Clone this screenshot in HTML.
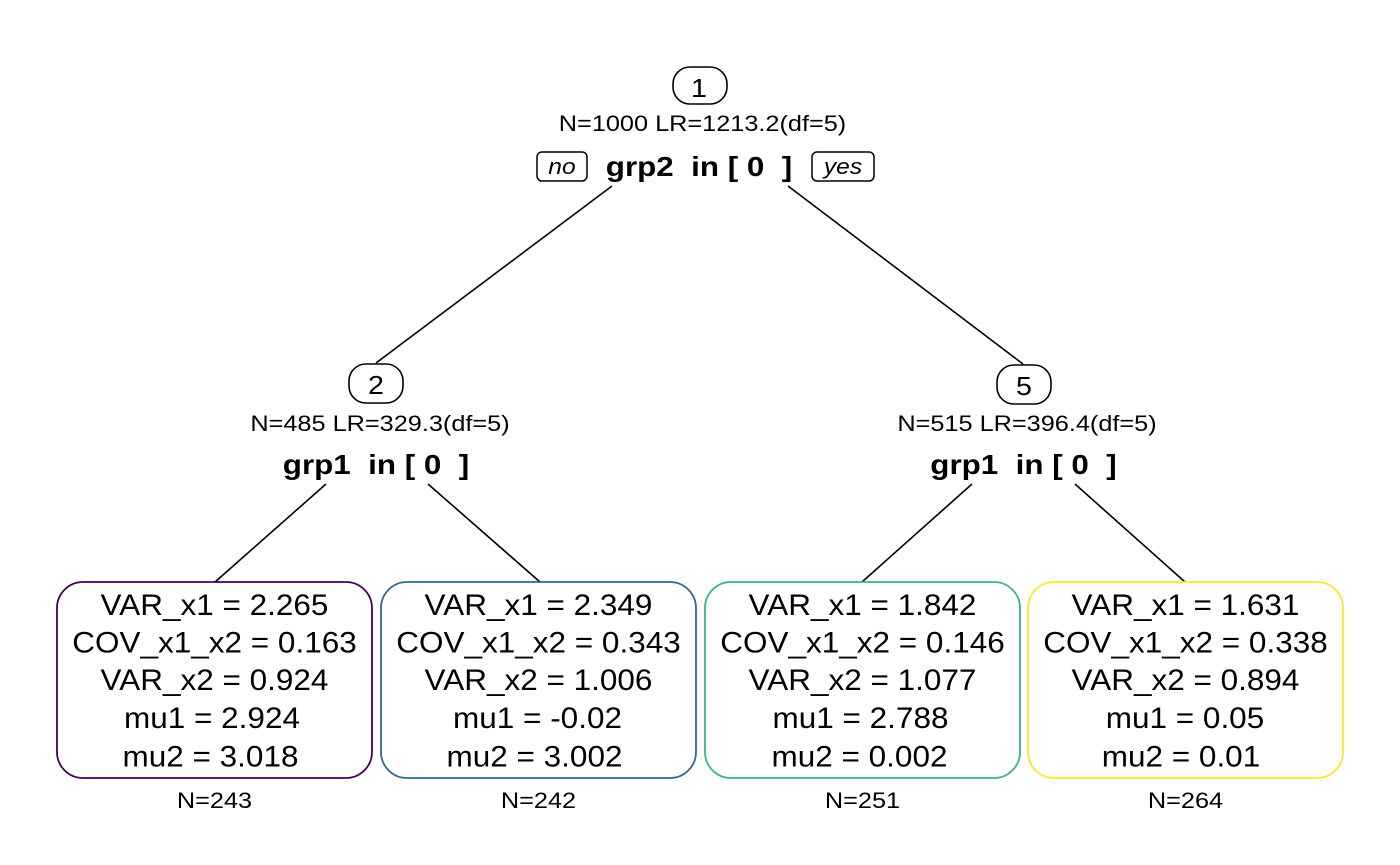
<!DOCTYPE html>
<html>
<head>
<meta charset="utf-8">
<style>
html,body{margin:0;padding:0;background:#fff;}
svg{display:block;}
text{font-family:"Liberation Sans",Arial,sans-serif;fill:#000;white-space:pre;}
.sm{font-size:22px;}
.bx{font-size:30px;}
.bd{font-size:28px;font-weight:bold;}
.nd{font-size:26px;}
.it{font-size:22px;font-style:italic;}
</style>
</head>
<body>
<svg width="1400" height="865" viewBox="0 0 1400 865" xmlns="http://www.w3.org/2000/svg">
  <rect x="0" y="0" width="1400" height="865" fill="#fff"/>

  <!-- edges -->
  <g stroke="#000" stroke-width="1.6" fill="none">
    <line x1="612" y1="186" x2="376" y2="363"/>
    <line x1="788" y1="186" x2="1023" y2="364"/>
    <line x1="326" y1="484" x2="215" y2="582"/>
    <line x1="428" y1="484" x2="540" y2="582"/>
    <line x1="972" y1="484" x2="862" y2="582"/>
    <line x1="1075" y1="484" x2="1185" y2="582"/>
  </g>

  <!-- node 1 -->
  <rect x="673" y="67" width="54" height="37" rx="17" ry="17" fill="#fff" stroke="#000" stroke-width="1.6"/>
  <text class="nd" text-anchor="middle" transform="translate(699,97) scale(1.1,1)">1</text>
  <text class="sm" text-anchor="middle" transform="translate(702.5,131) scale(1.15,1)">N=1000 LR=1213.2(df=5)</text>
  <rect x="537" y="152" width="50" height="29" rx="5" ry="5" fill="#fff" stroke="#000" stroke-width="1.5"/>
  <text class="it" text-anchor="middle" transform="translate(562,174) scale(1.12,1)">no</text>
  <rect x="812" y="152" width="62" height="29" rx="5" ry="5" fill="#fff" stroke="#000" stroke-width="1.5"/>
  <text class="it" text-anchor="middle" transform="translate(843,174) scale(1.12,1)">yes</text>
  <text class="bd" text-anchor="middle" transform="translate(699,176) scale(1.12,1)">grp2  in [ 0  ]</text>

  <!-- node 2 -->
  <rect x="349" y="364" width="54" height="39" rx="17" ry="17" fill="#fff" stroke="#000" stroke-width="1.6"/>
  <text class="nd" text-anchor="middle" transform="translate(376,394) scale(1.1,1)">2</text>
  <text class="sm" text-anchor="middle" transform="translate(380,431) scale(1.15,1)">N=485 LR=329.3(df=5)</text>
  <text class="bd" text-anchor="middle" transform="translate(376,474) scale(1.12,1)">grp1  in [ 0  ]</text>

  <!-- node 5 -->
  <rect x="997" y="365" width="54" height="39" rx="17" ry="17" fill="#fff" stroke="#000" stroke-width="1.6"/>
  <text class="nd" text-anchor="middle" transform="translate(1024,395) scale(1.1,1)">5</text>
  <text class="sm" text-anchor="middle" transform="translate(1027,431) scale(1.15,1)">N=515 LR=396.4(df=5)</text>
  <text class="bd" text-anchor="middle" transform="translate(1023.5,474) scale(1.12,1)">grp1  in [ 0  ]</text>

  <!-- leaf boxes -->
  <rect x="57" y="582" width="315" height="196" rx="26" ry="26" fill="#fff" stroke="#440154" stroke-width="1.8"/>
  <rect x="381" y="582" width="315" height="196" rx="26" ry="26" fill="#fff" stroke="#31688E" stroke-width="1.8"/>
  <rect x="705" y="582" width="315" height="196" rx="26" ry="26" fill="#fff" stroke="#35B779" stroke-width="1.8"/>
  <rect x="1028" y="582" width="315" height="196" rx="26" ry="26" fill="#fff" stroke="#FDE725" stroke-width="1.8"/>

  <!-- leaf 1 -->
  <text class="bx" text-anchor="middle" transform="translate(214.5,615) scale(1.05,1)">VAR_x1 = 2.265</text>
  <text class="bx" text-anchor="middle" transform="translate(214.5,652.5) scale(1.05,1)">COV_x1_x2 = 0.163</text>
  <text class="bx" text-anchor="middle" transform="translate(214.5,690) scale(1.05,1)">VAR_x2 = 0.924</text>
  <text class="bx" text-anchor="middle" transform="translate(212,728) scale(1.05,1)">mu1 = 2.924</text>
  <text class="bx" text-anchor="middle" transform="translate(210.5,766.5) scale(1.05,1)">mu2 = 3.018</text>
  <text class="sm" text-anchor="middle" transform="translate(214.5,808) scale(1.15,1)">N=243</text>

  <!-- leaf 2 -->
  <text class="bx" text-anchor="middle" transform="translate(538.5,615) scale(1.05,1)">VAR_x1 = 2.349</text>
  <text class="bx" text-anchor="middle" transform="translate(538.5,652.5) scale(1.05,1)">COV_x1_x2 = 0.343</text>
  <text class="bx" text-anchor="middle" transform="translate(538.5,690) scale(1.05,1)">VAR_x2 = 1.006</text>
  <text class="bx" text-anchor="middle" transform="translate(537.5,728) scale(1.05,1)">mu1 = -0.02</text>
  <text class="bx" text-anchor="middle" transform="translate(534.5,766.5) scale(1.05,1)">mu2 = 3.002</text>
  <text class="sm" text-anchor="middle" transform="translate(538.5,808) scale(1.15,1)">N=242</text>

  <!-- leaf 3 -->
  <text class="bx" text-anchor="middle" transform="translate(862.5,615) scale(1.05,1)">VAR_x1 = 1.842</text>
  <text class="bx" text-anchor="middle" transform="translate(862.5,652.5) scale(1.05,1)">COV_x1_x2 = 0.146</text>
  <text class="bx" text-anchor="middle" transform="translate(862.5,690) scale(1.05,1)">VAR_x2 = 1.077</text>
  <text class="bx" text-anchor="middle" transform="translate(860.5,728) scale(1.05,1)">mu1 = 2.788</text>
  <text class="bx" text-anchor="middle" transform="translate(859.5,766.5) scale(1.05,1)">mu2 = 0.002</text>
  <text class="sm" text-anchor="middle" transform="translate(862.5,808) scale(1.15,1)">N=251</text>

  <!-- leaf 4 -->
  <text class="bx" text-anchor="middle" transform="translate(1185.5,615) scale(1.05,1)">VAR_x1 = 1.631</text>
  <text class="bx" text-anchor="middle" transform="translate(1185.5,652.5) scale(1.05,1)">COV_x1_x2 = 0.338</text>
  <text class="bx" text-anchor="middle" transform="translate(1185.5,690) scale(1.05,1)">VAR_x2 = 0.894</text>
  <text class="bx" text-anchor="middle" transform="translate(1185,728) scale(1.05,1)">mu1 = 0.05</text>
  <text class="bx" text-anchor="middle" transform="translate(1181,766.5) scale(1.05,1)">mu2 = 0.01</text>
  <text class="sm" text-anchor="middle" transform="translate(1185.5,808) scale(1.15,1)">N=264</text>
</svg>
</body>
</html>
